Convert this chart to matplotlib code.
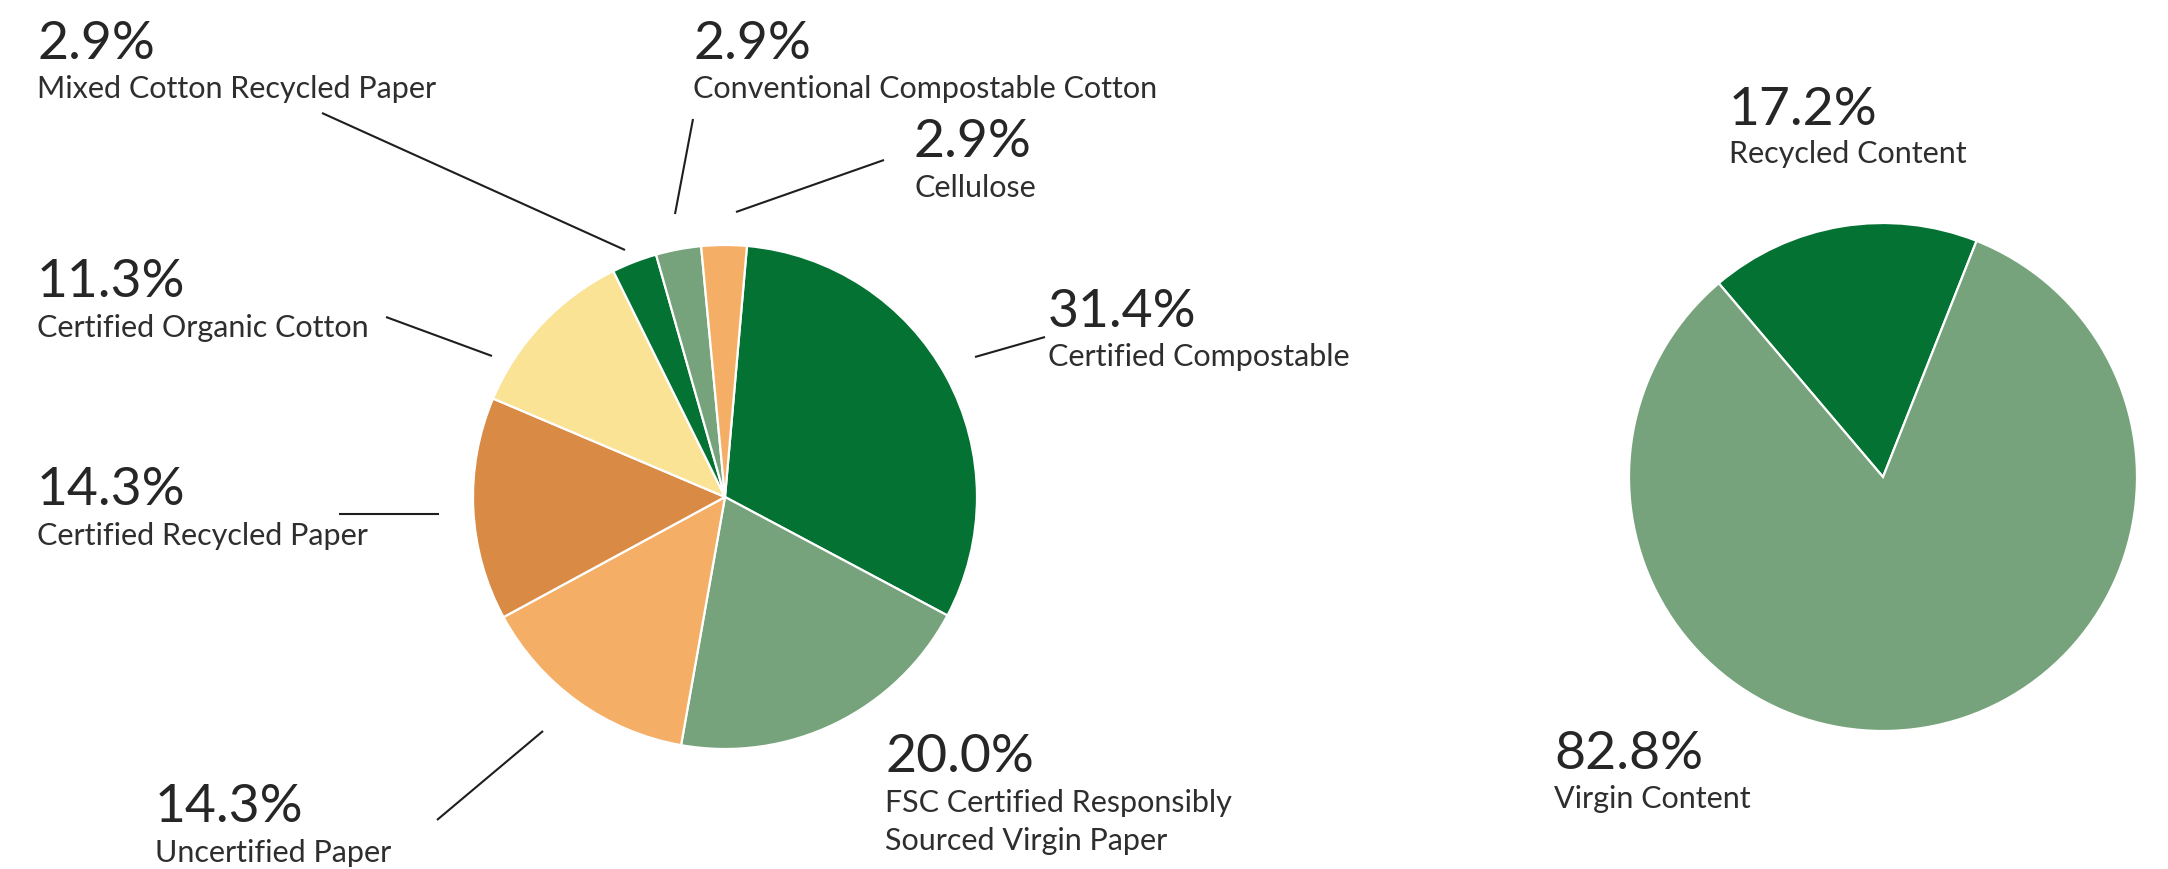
import matplotlib
matplotlib.use("Agg")
import matplotlib.pyplot as plt

# ---------------- data ----------------
materials = [
    "Certified Compostable",
    "FSC Certified Responsibly\nSourced Virgin Paper",
    "Uncertified Paper",
    "Certified Recycled Paper",
    "Certified Organic Cotton",
    "Mixed Cotton Recycled Paper",
    "Conventional Compostable Cotton",
    "Cellulose",
]
material_shares = [31.4, 20.0, 14.3, 14.3, 11.3, 2.9, 2.9, 2.9]
material_colors = ["#047233", "#76A37C", "#F5AE66", "#D98B45",
                   "#FBE396", "#047233", "#76A37C", "#F5AE66"]

content = ["Recycled Content", "Virgin Content"]
content_shares = [17.2, 82.8]
content_colors = ["#047233", "#76A37C"]

# ---------------- layout ----------------
W, H = 2168, 870
TEXT = "#262626"
LABEL_TEXT = "#2e2e2e"
FONT = ["Lato", "DejaVu Sans"]

fig = plt.figure(figsize=(W / 100, H / 100), dpi=100)
ax = fig.add_axes([0, 0, 1, 1])

wp = dict(edgecolor="white", linewidth=1.6)
ax.pie(material_shares, colors=material_colors, startangle=85,
       counterclock=False, center=(725, H - 498), radius=252,
       wedgeprops=wp, frame=False)
ax.pie(content_shares, colors=content_colors, startangle=130.3,
       counterclock=False, center=(1883, H - 478), radius=254,
       wedgeprops=wp, frame=False)
ax.set_xlim(0, W)
ax.set_ylim(0, H)
ax.set_aspect("auto")
ax.axis("off")

# label placement: x, number baseline, first label baseline (pixels from top)
mat_pos = [
    (1048, 327, 366),
    (885, 772, 812),
    (155, 822, 862),
    (37, 505, 545),
    (37, 297, 337),
    (37, 59, 98),
    (693, 59, 98),
    (914, 157, 197),
]
mat_leaders = [
    ((1045, 338), (975, 358)),
    None,
    ((437, 821), (543, 732)),
    ((339, 515), (439, 515)),
    ((386, 318), (492, 357)),
    ((322, 114), (625, 251)),
    ((693, 120), (675, 215)),
    ((884, 161), (736, 213)),
]
content_pos = [
    (1729, 125, 163),
    (1554, 769, 808),
]

NUM_SIZE = 38.5
LAB_SIZE = 22
LINE_GAP = 38


def put_label(x, yb_num, yb_lab, value, name):
    ax.text(x, H - yb_num, f"{value:.1f}%", fontsize=NUM_SIZE, color=TEXT,
            family=FONT, ha="left", va="baseline")
    for i, line in enumerate(name.split("\n")):
        ax.text(x, H - (yb_lab + i * LINE_GAP), line, fontsize=LAB_SIZE,
                color=LABEL_TEXT, family=FONT, ha="left", va="baseline")


for name, val, (x, yn, yl), ld in zip(materials, material_shares, mat_pos,
                                      mat_leaders):
    put_label(x, yn, yl, val, name)
    if ld is not None:
        (x0, y0), (x1, y1) = ld
        ax.plot([x0, x1], [H - y0, H - y1], color="#1e1e1e", lw=1.5,
                solid_capstyle="butt")

for name, val, (x, yn, yl) in zip(content, content_shares, content_pos):
    put_label(x, yn, yl, val, name)

fig.savefig("out.png", dpi=100, facecolor="white")
